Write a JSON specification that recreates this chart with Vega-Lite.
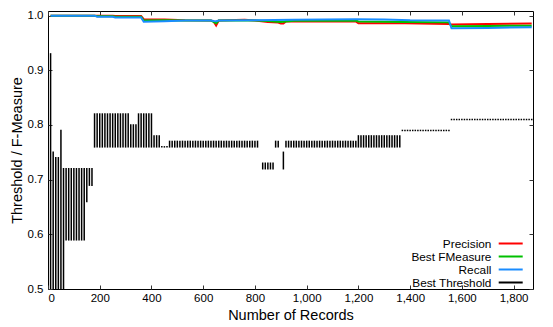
{
  "$schema": "https://vega.github.io/schema/vega-lite/v6.json",
  "width": 485,
  "height": 278,
  "autosize": {"type": "none"},
  "padding": {"left": 48, "top": 11, "right": 20, "bottom": 38},
  "background": "white",
  "config": {
    "view": {"stroke": "black", "strokeWidth": 1},
    "font": "Liberation Sans",
    "axis": {
      "labelFont": "Liberation Sans",
      "labelFontSize": 11.5,
      "labelColor": "black",
      "titleFont": "Liberation Sans",
      "titleFontSize": 14.5,
      "titleFontWeight": "normal",
      "titleColor": "black",
      "tickColor": "#333333",
      "tickSize": -4,
      "grid": false,
      "domain": false
    },
    "legend": {
      "labelFont": "Liberation Sans",
      "labelFontSize": 11.8,
      "labelColor": "black"
    }
  },
  "datasets": {
    "precision": [
      {"n": 10, "v": 1.0}, {"n": 250, "v": 1.0}, {"n": 260, "v": 0.9995}, {"n": 360, "v": 0.9995},
      {"n": 370, "v": 0.9935}, {"n": 450, "v": 0.993}, {"n": 530, "v": 0.9915}, {"n": 630, "v": 0.991},
      {"n": 640, "v": 0.9895}, {"n": 650, "v": 0.982}, {"n": 660, "v": 0.991}, {"n": 760, "v": 0.9925},
      {"n": 800, "v": 0.991}, {"n": 850, "v": 0.9885}, {"n": 890, "v": 0.9875}, {"n": 900, "v": 0.9858},
      {"n": 910, "v": 0.9858}, {"n": 920, "v": 0.9895}, {"n": 1190, "v": 0.9895}, {"n": 1200, "v": 0.986},
      {"n": 1380, "v": 0.986}, {"n": 1550, "v": 0.9845}, {"n": 1560, "v": 0.984}, {"n": 1700, "v": 0.9848},
      {"n": 1870, "v": 0.9858}
    ],
    "fmeasure": [
      {"n": 10, "v": 1.0}, {"n": 180, "v": 1.0}, {"n": 190, "v": 0.999}, {"n": 250, "v": 0.999},
      {"n": 260, "v": 0.998}, {"n": 360, "v": 0.998}, {"n": 370, "v": 0.991}, {"n": 450, "v": 0.9915},
      {"n": 530, "v": 0.991}, {"n": 630, "v": 0.991}, {"n": 640, "v": 0.9885}, {"n": 650, "v": 0.986},
      {"n": 660, "v": 0.991}, {"n": 800, "v": 0.991}, {"n": 850, "v": 0.99}, {"n": 900, "v": 0.9885},
      {"n": 950, "v": 0.9905}, {"n": 1190, "v": 0.991}, {"n": 1200, "v": 0.9893}, {"n": 1380, "v": 0.9885},
      {"n": 1550, "v": 0.9877}, {"n": 1560, "v": 0.9805}, {"n": 1700, "v": 0.981}, {"n": 1870, "v": 0.9817}
    ],
    "recall": [
      {"n": 10, "v": 1.0}, {"n": 180, "v": 1.0}, {"n": 190, "v": 0.998}, {"n": 250, "v": 0.998},
      {"n": 260, "v": 0.9965}, {"n": 360, "v": 0.9965}, {"n": 370, "v": 0.9888}, {"n": 450, "v": 0.9898},
      {"n": 530, "v": 0.991}, {"n": 630, "v": 0.991}, {"n": 640, "v": 0.9902}, {"n": 650, "v": 0.9898},
      {"n": 660, "v": 0.991}, {"n": 800, "v": 0.9915}, {"n": 950, "v": 0.9925}, {"n": 1190, "v": 0.9932},
      {"n": 1300, "v": 0.993}, {"n": 1400, "v": 0.9915}, {"n": 1550, "v": 0.9912}, {"n": 1560, "v": 0.9768},
      {"n": 1700, "v": 0.9775}, {"n": 1870, "v": 0.9788}
    ],
    "threshold": [
      {"n": 10, "lo": 0.5, "hi": 0.93}, {"n": 20, "lo": 0.5, "hi": 0.75}, {"n": 30, "lo": 0.5, "hi": 0.74},
      {"n": 40, "lo": 0.5, "hi": 0.74}, {"n": 50, "lo": 0.5, "hi": 0.79}, {"n": 60, "lo": 0.5, "hi": 0.72},
      {"n": 70, "lo": 0.59, "hi": 0.72}, {"n": 80, "lo": 0.59, "hi": 0.72}, {"n": 90, "lo": 0.59, "hi": 0.72},
      {"n": 100, "lo": 0.59, "hi": 0.72}, {"n": 110, "lo": 0.59, "hi": 0.72}, {"n": 120, "lo": 0.59, "hi": 0.72},
      {"n": 130, "lo": 0.59, "hi": 0.72}, {"n": 140, "lo": 0.59, "hi": 0.72}, {"n": 150, "lo": 0.66, "hi": 0.72},
      {"n": 160, "lo": 0.69, "hi": 0.72}, {"n": 170, "lo": 0.69, "hi": 0.72},
      {"n": 180, "lo": 0.76, "hi": 0.82}, {"n": 190, "lo": 0.76, "hi": 0.82}, {"n": 200, "lo": 0.76, "hi": 0.82},
      {"n": 210, "lo": 0.76, "hi": 0.82}, {"n": 220, "lo": 0.76, "hi": 0.82}, {"n": 230, "lo": 0.76, "hi": 0.82},
      {"n": 240, "lo": 0.76, "hi": 0.82}, {"n": 250, "lo": 0.76, "hi": 0.82}, {"n": 260, "lo": 0.76, "hi": 0.82},
      {"n": 270, "lo": 0.76, "hi": 0.82}, {"n": 280, "lo": 0.76, "hi": 0.82}, {"n": 290, "lo": 0.76, "hi": 0.82},
      {"n": 300, "lo": 0.76, "hi": 0.82}, {"n": 310, "lo": 0.76, "hi": 0.82},
      {"n": 320, "lo": 0.76, "hi": 0.80}, {"n": 330, "lo": 0.76, "hi": 0.80}, {"n": 340, "lo": 0.76, "hi": 0.80},
      {"n": 350, "lo": 0.76, "hi": 0.82}, {"n": 360, "lo": 0.76, "hi": 0.82}, {"n": 370, "lo": 0.76, "hi": 0.82},
      {"n": 380, "lo": 0.76, "hi": 0.82}, {"n": 390, "lo": 0.76, "hi": 0.82}, {"n": 400, "lo": 0.76, "hi": 0.82},
      {"n": 410, "lo": 0.76, "hi": 0.78}, {"n": 420, "lo": 0.76, "hi": 0.78}, {"n": 430, "lo": 0.76, "hi": 0.78},
      {"n": 440, "lo": 0.76, "hi": 0.76}, {"n": 450, "lo": 0.76, "hi": 0.76}, {"n": 460, "lo": 0.76, "hi": 0.76},
      {"n": 470, "lo": 0.76, "hi": 0.77}, {"n": 480, "lo": 0.76, "hi": 0.77}, {"n": 490, "lo": 0.76, "hi": 0.77},
      {"n": 500, "lo": 0.76, "hi": 0.77}, {"n": 510, "lo": 0.76, "hi": 0.77}, {"n": 520, "lo": 0.76, "hi": 0.77},
      {"n": 530, "lo": 0.76, "hi": 0.77}, {"n": 540, "lo": 0.76, "hi": 0.77}, {"n": 550, "lo": 0.76, "hi": 0.77},
      {"n": 560, "lo": 0.76, "hi": 0.77}, {"n": 570, "lo": 0.76, "hi": 0.77}, {"n": 580, "lo": 0.76, "hi": 0.77},
      {"n": 590, "lo": 0.76, "hi": 0.77}, {"n": 600, "lo": 0.76, "hi": 0.77}, {"n": 610, "lo": 0.76, "hi": 0.77},
      {"n": 620, "lo": 0.76, "hi": 0.77}, {"n": 630, "lo": 0.76, "hi": 0.77}, {"n": 640, "lo": 0.76, "hi": 0.77},
      {"n": 650, "lo": 0.76, "hi": 0.77}, {"n": 660, "lo": 0.76, "hi": 0.77}, {"n": 670, "lo": 0.76, "hi": 0.77},
      {"n": 680, "lo": 0.76, "hi": 0.77}, {"n": 690, "lo": 0.76, "hi": 0.77}, {"n": 700, "lo": 0.76, "hi": 0.77},
      {"n": 710, "lo": 0.76, "hi": 0.77}, {"n": 720, "lo": 0.76, "hi": 0.77}, {"n": 730, "lo": 0.76, "hi": 0.77},
      {"n": 740, "lo": 0.76, "hi": 0.77}, {"n": 750, "lo": 0.76, "hi": 0.77}, {"n": 760, "lo": 0.76, "hi": 0.77},
      {"n": 770, "lo": 0.76, "hi": 0.77}, {"n": 780, "lo": 0.76, "hi": 0.77}, {"n": 790, "lo": 0.76, "hi": 0.77},
      {"n": 800, "lo": 0.76, "hi": 0.77}, {"n": 810, "lo": 0.76, "hi": 0.77},
      {"n": 830, "lo": 0.72, "hi": 0.73}, {"n": 840, "lo": 0.72, "hi": 0.73}, {"n": 850, "lo": 0.72, "hi": 0.73},
      {"n": 860, "lo": 0.72, "hi": 0.73}, {"n": 870, "lo": 0.72, "hi": 0.73},
      {"n": 880, "lo": 0.76, "hi": 0.77}, {"n": 890, "lo": 0.76, "hi": 0.77},
      {"n": 910, "lo": 0.72, "hi": 0.75},
      {"n": 920, "lo": 0.76, "hi": 0.77}, {"n": 930, "lo": 0.76, "hi": 0.77}, {"n": 940, "lo": 0.76, "hi": 0.77},
      {"n": 950, "lo": 0.76, "hi": 0.77}, {"n": 960, "lo": 0.76, "hi": 0.77}, {"n": 970, "lo": 0.76, "hi": 0.77},
      {"n": 980, "lo": 0.76, "hi": 0.77}, {"n": 990, "lo": 0.76, "hi": 0.77}, {"n": 1000, "lo": 0.76, "hi": 0.77},
      {"n": 1010, "lo": 0.76, "hi": 0.77}, {"n": 1020, "lo": 0.76, "hi": 0.77}, {"n": 1030, "lo": 0.76, "hi": 0.77},
      {"n": 1040, "lo": 0.76, "hi": 0.77}, {"n": 1050, "lo": 0.76, "hi": 0.77}, {"n": 1060, "lo": 0.76, "hi": 0.77},
      {"n": 1070, "lo": 0.76, "hi": 0.77}, {"n": 1080, "lo": 0.76, "hi": 0.77}, {"n": 1090, "lo": 0.76, "hi": 0.77},
      {"n": 1100, "lo": 0.76, "hi": 0.77}, {"n": 1110, "lo": 0.76, "hi": 0.77}, {"n": 1120, "lo": 0.76, "hi": 0.77},
      {"n": 1130, "lo": 0.76, "hi": 0.77}, {"n": 1140, "lo": 0.76, "hi": 0.77}, {"n": 1150, "lo": 0.76, "hi": 0.77},
      {"n": 1160, "lo": 0.76, "hi": 0.77}, {"n": 1170, "lo": 0.76, "hi": 0.77}, {"n": 1180, "lo": 0.76, "hi": 0.77},
      {"n": 1190, "lo": 0.76, "hi": 0.77},
      {"n": 1200, "lo": 0.76, "hi": 0.78}, {"n": 1210, "lo": 0.76, "hi": 0.78}, {"n": 1220, "lo": 0.76, "hi": 0.78},
      {"n": 1230, "lo": 0.76, "hi": 0.78}, {"n": 1240, "lo": 0.76, "hi": 0.78}, {"n": 1250, "lo": 0.76, "hi": 0.78},
      {"n": 1260, "lo": 0.76, "hi": 0.78}, {"n": 1270, "lo": 0.76, "hi": 0.78}, {"n": 1280, "lo": 0.76, "hi": 0.78},
      {"n": 1290, "lo": 0.76, "hi": 0.78}, {"n": 1300, "lo": 0.76, "hi": 0.78}, {"n": 1310, "lo": 0.76, "hi": 0.78},
      {"n": 1320, "lo": 0.76, "hi": 0.78}, {"n": 1330, "lo": 0.76, "hi": 0.78}, {"n": 1340, "lo": 0.76, "hi": 0.78},
      {"n": 1350, "lo": 0.76, "hi": 0.78}, {"n": 1360, "lo": 0.76, "hi": 0.78},
      {"n": 1370, "lo": 0.79, "hi": 0.79}, {"n": 1380, "lo": 0.79, "hi": 0.79}, {"n": 1390, "lo": 0.79, "hi": 0.79},
      {"n": 1400, "lo": 0.79, "hi": 0.79}, {"n": 1410, "lo": 0.79, "hi": 0.79}, {"n": 1420, "lo": 0.79, "hi": 0.79},
      {"n": 1430, "lo": 0.79, "hi": 0.79}, {"n": 1440, "lo": 0.79, "hi": 0.79}, {"n": 1450, "lo": 0.79, "hi": 0.79},
      {"n": 1460, "lo": 0.79, "hi": 0.79}, {"n": 1470, "lo": 0.79, "hi": 0.79}, {"n": 1480, "lo": 0.79, "hi": 0.79},
      {"n": 1490, "lo": 0.79, "hi": 0.79}, {"n": 1500, "lo": 0.79, "hi": 0.79}, {"n": 1510, "lo": 0.79, "hi": 0.79},
      {"n": 1520, "lo": 0.79, "hi": 0.79}, {"n": 1530, "lo": 0.79, "hi": 0.79}, {"n": 1540, "lo": 0.79, "hi": 0.79},
      {"n": 1550, "lo": 0.79, "hi": 0.79},
      {"n": 1560, "lo": 0.81, "hi": 0.81}, {"n": 1570, "lo": 0.81, "hi": 0.81}, {"n": 1580, "lo": 0.81, "hi": 0.81},
      {"n": 1590, "lo": 0.81, "hi": 0.81}, {"n": 1600, "lo": 0.81, "hi": 0.81}, {"n": 1610, "lo": 0.81, "hi": 0.81},
      {"n": 1620, "lo": 0.81, "hi": 0.81}, {"n": 1630, "lo": 0.81, "hi": 0.81}, {"n": 1640, "lo": 0.81, "hi": 0.81},
      {"n": 1650, "lo": 0.81, "hi": 0.81}, {"n": 1660, "lo": 0.81, "hi": 0.81}, {"n": 1670, "lo": 0.81, "hi": 0.81},
      {"n": 1680, "lo": 0.81, "hi": 0.81}, {"n": 1690, "lo": 0.81, "hi": 0.81}, {"n": 1700, "lo": 0.81, "hi": 0.81},
      {"n": 1710, "lo": 0.81, "hi": 0.81}, {"n": 1720, "lo": 0.81, "hi": 0.81}, {"n": 1730, "lo": 0.81, "hi": 0.81},
      {"n": 1740, "lo": 0.81, "hi": 0.81}, {"n": 1750, "lo": 0.81, "hi": 0.81}, {"n": 1760, "lo": 0.81, "hi": 0.81},
      {"n": 1770, "lo": 0.81, "hi": 0.81}, {"n": 1780, "lo": 0.81, "hi": 0.81}, {"n": 1790, "lo": 0.81, "hi": 0.81},
      {"n": 1800, "lo": 0.81, "hi": 0.81}, {"n": 1810, "lo": 0.81, "hi": 0.81}, {"n": 1820, "lo": 0.81, "hi": 0.81},
      {"n": 1830, "lo": 0.81, "hi": 0.81}, {"n": 1840, "lo": 0.81, "hi": 0.81}, {"n": 1850, "lo": 0.81, "hi": 0.81},
      {"n": 1860, "lo": 0.81, "hi": 0.81}, {"n": 1870, "lo": 0.81, "hi": 0.81}
    ]
  },
  "resolve": {"axis": {"x": "independent", "y": "independent"}},
  "layer": [
    {
      "data": {"name": "precision"},
      "mark": {"type": "line", "strokeWidth": 2, "clip": true},
      "encoding": {
        "x": {
          "field": "n", "type": "quantitative",
          "scale": {"domain": [0, 1875], "nice": false, "zero": false},
          "axis": {
            "orient": "bottom", "title": "Number of Records",
            "values": [0, 200, 400, 600, 800, 1000, 1200, 1400, 1600, 1800],
            "format": ",d", "labelPadding": 7.5,
            "titleY": 30, "titleBaseline": "alphabetic"
          }
        },
        "y": {
          "field": "v", "type": "quantitative",
          "scale": {"domain": [0.5, 1.0085], "nice": false, "zero": false},
          "axis": {
            "orient": "left", "title": "Threshold / F-Measure",
            "values": [0.5, 0.6, 0.7, 0.8, 0.9, 1.0],
            "format": ".1f", "labelPadding": 9,
            "titleX": -31, "titleBaseline": "middle"
          }
        },
        "color": {
          "datum": "Precision",
          "scale": {
            "domain": ["Precision", "Best FMeasure", "Recall", "Best Threshold"],
            "range": ["#ff0000", "#00c000", "#1a8cff", "#000000"]
          },
          "legend": {
            "title": null,
            "orient": "none",
            "legendX": 456.8,
            "legendY": 226.6,
            "symbolType": "M-6,0H6",
            "symbolSize": 16,
            "symbolStrokeWidth": 2,
            "symbolFillColor": "transparent",
            "labelAlign": "right",
            "labelOffset": -25.2,
            "rowPadding": -4
          }
        }
      }
    },
    {
      "data": {"name": "fmeasure"},
      "mark": {"type": "line", "strokeWidth": 2, "clip": true},
      "encoding": {
        "x": {"field": "n", "type": "quantitative", "axis": null},
        "y": {"field": "v", "type": "quantitative", "axis": null},
        "color": {"datum": "Best FMeasure"}
      }
    },
    {
      "data": {"name": "recall"},
      "mark": {"type": "line", "strokeWidth": 2, "clip": true},
      "encoding": {
        "x": {"field": "n", "type": "quantitative", "axis": null},
        "y": {"field": "v", "type": "quantitative", "axis": null},
        "color": {"datum": "Recall"}
      }
    },
    {
      "data": {"name": "threshold"},
      "mark": {"type": "rule", "strokeWidth": 1.5, "strokeCap": "square", "clip": true},
      "encoding": {
        "x": {
          "field": "n", "type": "quantitative",
          "axis": {
            "orient": "top", "title": null, "labels": false,
            "values": [0, 200, 400, 600, 800, 1000, 1200, 1400, 1600, 1800]
          }
        },
        "y": {
          "field": "lo", "type": "quantitative",
          "axis": {
            "orient": "right", "title": null, "labels": false,
            "values": [0.5, 0.6, 0.7, 0.8, 0.9, 1.0]
          }
        },
        "y2": {"field": "hi"},
        "color": {"datum": "Best Threshold"}
      }
    }
  ]
}
